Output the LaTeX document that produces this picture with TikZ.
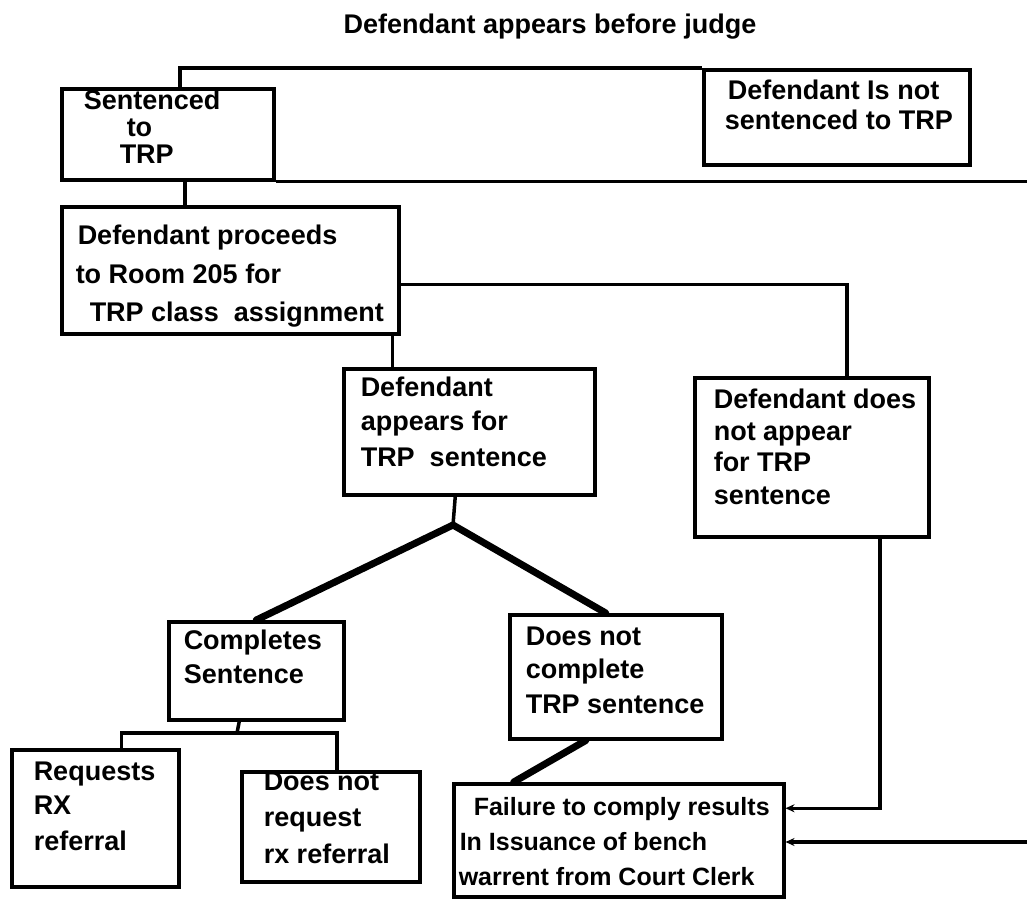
\documentclass[tikz,border=0pt]{standalone}
\usepackage{fontspec}
\setmainfont{Liberation Sans}
\usetikzlibrary{arrows.meta}
\tikzset{
  box/.style={draw, line width=3.5pt, inner sep=0pt, anchor=north west},
  wire/.style={line width=3.5pt},
  fat/.style={line width=7pt, line cap=round},
  ar/.style={-{Stealth[length=9pt,width=8pt]}, line width=3.5pt},
  ttl/.style={font=\bfseries\fontsize{27}{32}\selectfont},
}
\newcommand{\boxtext}[3]{\parbox[c][#2][t]{#1}{\bfseries\fontsize{27}{35}\selectfont #3}}

\begin{document}
\begin{tikzpicture}[x=1pt, y=-1pt]
\useasboundingbox (0,0) rectangle (1027,899);
\node[ttl] (title) at (550,27) {Defendant appears before judge};
% boxes
\node[box] (sent) at (60,87) {\boxtext{212pt}{91pt}{\vspace*{1pt}\hspace*{22pt}Sentenced\\[-8pt]\hspace*{65pt}to\\[-8pt]\hspace*{58pt}TRP}};
\node[box] (notsent) at (702,68) {\boxtext{266pt}{95pt}{\vspace*{10pt}\hspace*{24pt}Defendant Is not\\[-5pt]\hspace*{21pt}sentenced to TRP}};
\node[box] (room) at (60,205) {\boxtext{337pt}{127pt}{\vspace*{18pt}\hspace*{16pt}Defendant proceeds\\[4pt]\hspace*{14pt}to Room 205 for\\[3pt]\hspace*{28pt}TRP class\ \ assignment}};
\node[box] (appears) at (342,367) {\boxtext{251pt}{126pt}{\vspace*{8pt}\hspace*{17pt}Defendant\\[-1pt]\hspace*{17pt}appears for\\[1pt]\hspace*{17pt}TRP\ \ sentence}};
\node[box] (notapp) at (693,376) {\boxtext{234pt}{159pt}{\vspace*{11pt}\hspace*{19pt}Defendant does\\[-3pt]\hspace*{19pt}not appear\\[-4pt]\hspace*{19pt}for TRP\\[-2pt]\hspace*{19pt}sentence}};
\node[box] (completes) at (167,620) {\boxtext{175pt}{98pt}{\vspace*{8pt}\hspace*{15pt}Completes\\[-1pt]\hspace*{15pt}Sentence}};
\node[box] (notcomp) at (508,613) {\boxtext{212pt}{124pt}{\vspace*{12pt}\hspace*{16pt}Does not\\[-2pt]\hspace*{16pt}complete\\[0pt]\hspace*{16pt}TRP sentence}};
\node[box] (requests) at (10,748) {\boxtext{167pt}{137pt}{\vspace*{12pt}\hspace*{22pt}Requests\\[-1pt]\hspace*{22pt}RX\\[1pt]\hspace*{22pt}referral}};
\node[box] (notreq) at (240,770) {\boxtext{178pt}{110pt}{\vspace*{0pt}\hspace*{22pt}Does not\\[1pt]\hspace*{22pt}request\\[2pt]\hspace*{22pt}rx referral}};
\node[box] (failure) at (452,782) {\boxtext{330pt}{113pt}{\fontsize{25}{35}\selectfont\vspace*{14pt}\hspace*{20pt}Failure to comply results\\\hspace*{6pt}In Issuance of bench\\\hspace*{5pt}warrent from Court Clerk}};
% free ends and joints
\coordinate (edgeA) at (1027,181);
\coordinate (edgeB) at (1027,842);
\coordinate (split) at (453,525);
\coordinate (fork) at (237,733);
% connectors
\draw[wire] ([xshift=12pt]sent.north) |- (notsent.north west);
\draw[wire] (sent.south east) -- (sent.south east -| edgeA);
\draw[wire] ([xshift=17pt]sent.south) -- ([xshift=17pt]sent.south |- room.north);
\draw[wire] ([xshift=-8pt]room.south east) -- ([xshift=-8pt]room.south east |- appears.north);
\draw[wire] ([xshift=35pt]notapp.north) |- ([yshift=-14pt]room.east);
\draw[wire] ([xshift=-14pt]appears.south) -- (split);
\draw[fat] (split) -- (completes.north);
\draw[fat] (split) -- ([xshift=-10pt]notcomp.north);
\draw[fat] ([xshift=-30pt]notcomp.south) -- ([xshift=-105pt]failure.north);
\draw[wire] ([xshift=-17pt]completes.south) -- (fork);
\draw[wire] (fork) -| ([xshift=26pt]requests.north);
\draw[wire] (fork) -| ([xshift=6pt]notreq.north);
\draw[ar] ([xshift=68pt]notapp.south) |- ([yshift=32pt]failure.east);
\draw[ar] (edgeB) -- (edgeB -| failure.east);
\end{tikzpicture}
\end{document}
